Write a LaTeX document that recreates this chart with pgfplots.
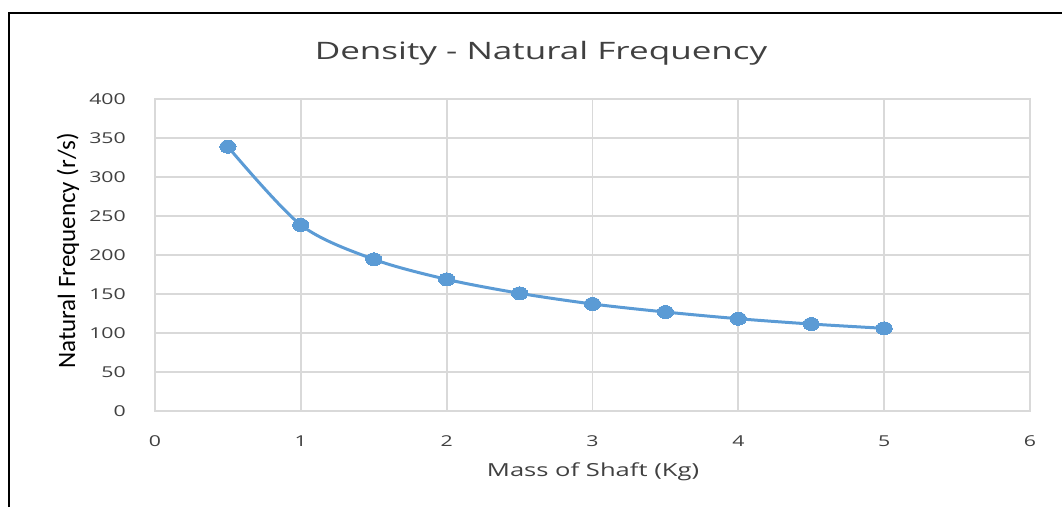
\documentclass[border=0pt]{standalone}
\usepackage{pgfplots}
\pgfplotsset{compat=1.18}
\usepackage{fontspec}
\setmainfont{Open Sans}
\newfontfamily\condfont{Carlito}
\definecolor{txt}{HTML}{404040}
\definecolor{grd}{HTML}{D9D9D9}
\definecolor{ser}{HTML}{5B9BD5}
\begin{document}
\begin{tikzpicture}
\useasboundingbox (0pt,0pt) rectangle (1062pt,-507pt);
\draw[line width=1.6pt] (9pt,-507pt) -- (9pt,-13pt) -- (1062pt,-13pt);
\begin{axis}[
  at={(155pt,-411pt)}, anchor=south west,
  scale only axis, width=875pt, height=312pt,
  xmin=0, xmax=6, ymin=0, ymax=400,
  xtick={0,1,...,6}, ytick={0,50,...,400},
  grid=major, major grid style={grd, line width=1.7pt},
  axis line style={grd, line width=1.7pt},
  tick style={draw=none},
  ticklabel style={font=\fontsize{15}{18}\selectfont, text=txt, xscale=1.42},
  /pgf/number format/assume math mode=true,
  xticklabel style={yshift=-21pt},
  yticklabel style={xshift=-17pt},
  clip=false,
]
\addplot[ser, line width=3pt, smooth, mark=*, mark size=6.5pt, mark options={fill=ser, draw=ser, line width=0pt, xscale=1.25}]
coordinates {(0.5,338.8) (1,238.5) (1.5,194.5) (2,168.8) (2.5,150.9) (3,137.2) (3.5,126.9) (4,118.3) (4.5,111.5) (5,106)};
\end{axis}
\node[text=txt, font=\fontsize{24}{29}\selectfont, xscale=1.46] at (541pt,-53pt) {Density - Natural Frequency};
\node[text=txt, font=\fontsize{18}{22}\selectfont, xscale=1.42] at (593pt,-472pt) {Mass of Shaft (Kg)};
\node[text=black, rotate=90, font=\condfont\fontsize{25}{30}\selectfont] at (68pt,-251pt) {Natural Frequency (r/s)};
\end{tikzpicture}
\end{document}
